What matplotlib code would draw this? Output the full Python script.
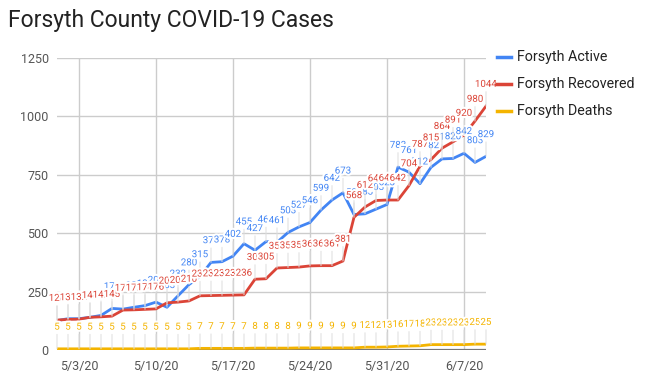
import matplotlib
matplotlib.use("Agg")
import matplotlib.pyplot as plt
import matplotlib.dates as mdates
import matplotlib.patheffects as pe
from matplotlib.lines import Line2D
import pandas as pd

plt.rcParams['font.family'] = ['Roboto', 'DejaVu Sans']

dates = pd.date_range('2020-05-01', '2020-06-09')

active = [126, 134, 134, 140, 148, 178, 175, 183, 190, 205,
          183, 232, 280, 315, 375, 378, 402, 455, 427, 464,
          461, 503, 527, 546, 599, 642, 673, 580, 583, 603,
          623, 783, 761, 712, 782, 818, 820, 842, 803, 829]
recovered = [128, 131, 132, 140, 142, 145, 171, 172, 174, 176,
             202, 205, 210, 232, 233, 234, 235, 236, 303, 305,
             351, 353, 355, 360, 361, 361, 381, 568, 612, 640,
             642, 642, 704, 787, 815, 864, 891, 920, 980, 1044]
deaths = [5, 5, 5, 5, 5, 5, 5, 5, 5, 5,
          5, 5, 5, 7, 7, 7, 7, 7, 8, 8,
          8, 8, 9, 9, 9, 9, 9, 9, 12, 12,
          13, 16, 17, 18, 23, 23, 23, 23, 25, 25]

series = [("Forsyth Active", active, "#4285F4"),
          ("Forsyth Recovered", recovered, "#DB4437"),
          ("Forsyth Deaths", deaths, "#F4B400")]

tick_dates = pd.to_datetime(['2020-05-03', '2020-05-10', '2020-05-17',
                             '2020-05-24', '2020-05-31', '2020-06-07'])
y_ticks = [0, 250, 500, 750, 1000, 1250]

fig = plt.figure(figsize=(6.47, 3.82), dpi=100)
ax = fig.add_axes([57 / 647, 1 - 350 / 382, (486 - 57) / 647, (350 - 58) / 382])

ax.set_xlim(dates[0], dates[-1])
ax.set_ylim(0, 1250)
ax.set_yticks(y_ticks)
ax.set_xticks(tick_dates)
ax.xaxis.set_major_formatter(mdates.DateFormatter('%-m/%-d/%y'))
ax.grid(True, color='#cccccc', lw=1)
ax.set_axisbelow(True)
for s in ax.spines.values():
    s.set_visible(False)
ax.tick_params(length=0, labelsize=9, colors='#555555')
ax.tick_params(axis='y', pad=6)
ax.tick_params(axis='x', pad=7)
ax.axhline(0, color='#777777', lw=1.6, zorder=2)

halo = [pe.withStroke(linewidth=3, foreground='white')]
for name, vals, col in series:
    ax.plot(dates, vals, color=col, lw=2, zorder=3, solid_joinstyle='round')
for name, vals, col in series:
    for d, v in zip(dates, vals):
        ax.annotate(str(v), xy=(d, v), xytext=(0, 16), textcoords='offset points',
                    ha='center', va='center', fontsize=7, color=col,
                    path_effects=halo, zorder=5,
                    arrowprops=dict(arrowstyle='-', color='#dddddd', lw=0.7,
                                    shrinkA=0, shrinkB=0))

fig.text(8 / 647, 1 - 21 / 382, "Forsyth County COVID-19 Cases", fontsize=16.5,
         color='#222222', va='center', ha='left')

for i, (name, vals, col) in enumerate(series):
    y = 1 - (57 + 27 * i) / 382
    fig.add_artist(Line2D([497 / 647, 511 / 647], [y, y], color=col, lw=2.5))
    fig.text(517 / 647, y, name, fontsize=10.3, color='#222222', va='center', ha='left')

fig.savefig('out.png', dpi=100)
